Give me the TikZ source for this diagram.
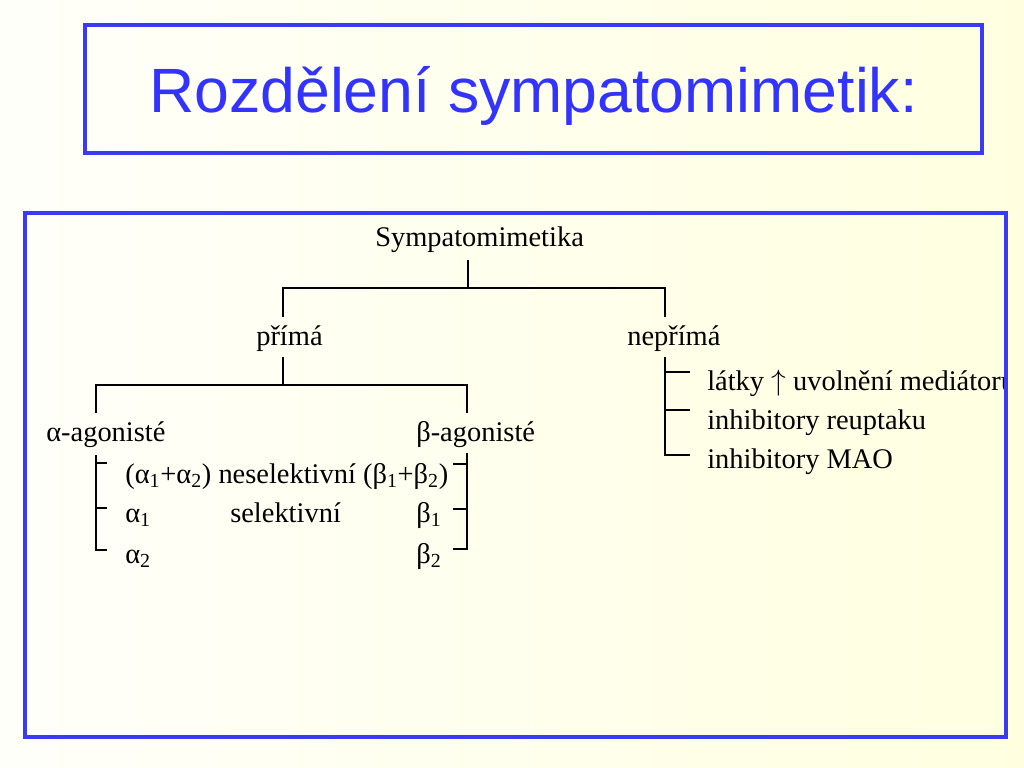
\documentclass[tikz,border=0pt]{standalone}
\usepackage{fontspec}
\setmainfont{Liberation Serif}
\newfontfamily\titelschrift{Liberation Sans}
\usepackage{tikz}
\usetikzlibrary{calc,positioning}
\definecolor{titelblau}{RGB}{51,51,255}
\definecolor{rahmenblau}{RGB}{58,58,245}
\definecolor{hgweiss}{RGB}{255,255,250}
\definecolor{hggelb}{RGB}{255,255,224}
\tikzset{
  rahmen/.style={draw=rahmenblau,line width=2.4pt},
  eintrag/.style={anchor=base west,inner sep=0pt,font=\fontsize{20}{24}\selectfont},
  ast/.style={black,line width=1pt},
}
\newcommand{\ind}[1]{\textsubscript{#1}}

\begin{document}
\begin{tikzpicture}[x=0.703125pt,y=-0.703125pt]
%Einheiten: 1 = ein Pixel der Folie (1024 x 768), y nach unten
\shade[left color=hgweiss,right color=hggelb] (0,0) rectangle (1024,768);
%Titel
\draw[rahmen] (85,25) rectangle (982,153);
\node[anchor=base,inner sep=0pt,text=titelblau,font=\titelschrift\fontsize{44}{52}\selectfont] (titel) at (533.5,113) {Rozdělení sympatomimetik:};
%Baum
\begin{scope}
\clip (25,213) rectangle (1006,737);
\node[eintrag] (sym) at (375,247) {Sympatomimetika};
\node[eintrag] (prima) at (256,346) {přímá};
\node[eintrag] (neprima) at (627,346) {nepřímá};
\node[eintrag] (alpha) at (46,441) {α-agonisté};
\node[eintrag] (beta) at (416,441) {β-agonisté};
\node[eintrag] (nesel) at (125,483) {(α\ind{1}+α\ind{2}) neselektivní (β\ind{1}+β\ind{2})};
\node[eintrag] (a1) at (125,522) {α\ind{1}};
\node[eintrag] (sel) at (230,522) {selektivní};
\node[eintrag] (b1) at (416,522) {β\ind{1}};
\node[eintrag] (a2) at (125,563) {α\ind{2}};
\node[eintrag] (b2) at (416,563) {β\ind{2}};
\node[eintrag] (latky) at (707,390) {látky $\uparrow$ uvolnění mediátoru};
\node[eintrag] (reupt) at (707,429) {inhibitory reuptaku};
\node[eintrag] (mao) at (707,468) {inhibitory MAO};
\end{scope}
%Anschlusspunkte der Linien
\coordinate (sym-u) at (468,260);
\coordinate (prima-o) at (283,317);
\coordinate (neprima-o) at (665,317);
\coordinate (prima-u) at (283,357);
\coordinate (alpha-o) at (96,413);
\coordinate (beta-o) at (467,413);
\coordinate (alpha-u) at (96,455);
\coordinate (beta-u) at (467,453);
\coordinate (neprima-u) at (665,357);
\draw[ast] (sym-u) -- ++(0,28) -| (prima-o);
\draw[ast] (sym-u) -- ++(0,28) -| (neprima-o);
\draw[ast] (prima-u) -- ++(0,28) -| (alpha-o);
\draw[ast] (prima-u) -- ++(0,28) -| (beta-o);
%Klammern
\draw[ast] (alpha-u) |- ++(11,95);
\foreach \yy in {463,508} \draw[ast] (96,\yy) -- ++(11,0);
\draw[ast] (beta-u) |- ++(-14,96);
\foreach \yy in {464,509} \draw[ast] (467,\yy) -- ++(-14,0);
\draw[ast] (neprima-u) |- ++(25,98);
\foreach \yy in {372,410} \draw[ast] (665,\yy) -- ++(25,0);
\draw[rahmen] (25,213) rectangle (1006,737);
\end{tikzpicture}
\end{document}
